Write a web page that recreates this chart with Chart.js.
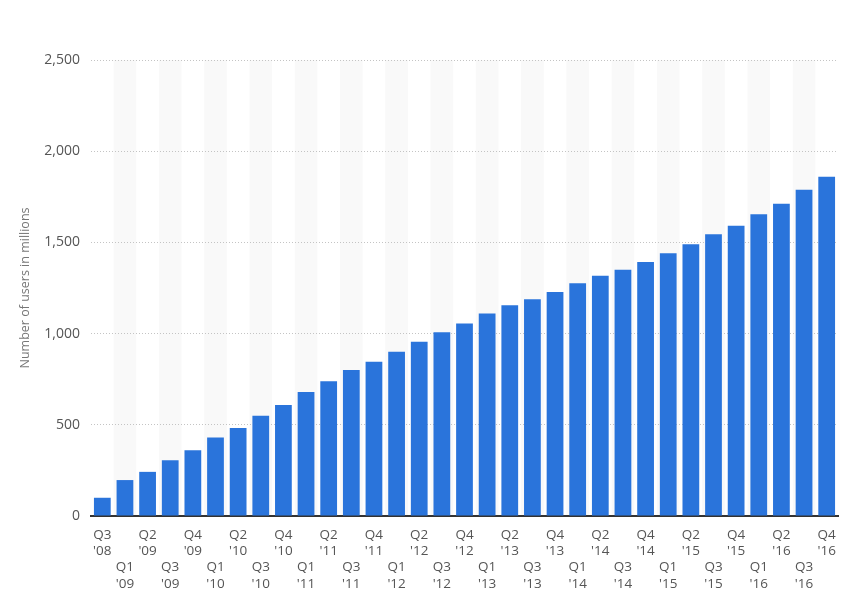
<!DOCTYPE html>
<html>
<head>
<meta charset="utf-8">
<script src="https://cdn.jsdelivr.net/npm/chart.js@4"></script>
<style>
  html, body { margin: 0; padding: 0; background: #fff; }
  #wrap { width: 856px; height: 605px; position: relative; }
</style>
</head>
<body>
<div id="wrap"><canvas id="usersChart"></canvas></div>
<script>
const quarters = ['Q3', 'Q1', 'Q2', 'Q3', 'Q4', 'Q1', 'Q2', 'Q3', 'Q4', 'Q1', 'Q2', 'Q3', 'Q4',
    'Q1', 'Q2', 'Q3', 'Q4', 'Q1', 'Q2', 'Q3', 'Q4', 'Q1', 'Q2', 'Q3', 'Q4',
    'Q1', 'Q2', 'Q3', 'Q4', 'Q1', 'Q2', 'Q3', 'Q4'];
const years = ["'08", "'09", "'09", "'09", "'09", "'10", "'10", "'10", "'10", "'11", "'11", "'11", "'11",
    "'12", "'12", "'12", "'12", "'13", "'13", "'13", "'13", "'14", "'14", "'14", "'14",
    "'15", "'15", "'15", "'15", "'16", "'16", "'16", "'16"];
const users = [100, 197, 242, 305, 360, 431, 482, 550, 608, 680, 739, 800, 845,
    901, 955, 1007, 1056, 1110, 1155, 1189, 1228, 1276, 1317, 1350, 1393,
    1441, 1490, 1545, 1591, 1654, 1712, 1788, 1860];
const yTicks = [0, 500, 1000, 1500, 2000, 2500];

// staggered labels: every second one pushed down two lines
const labels = quarters.map((q, i) => i % 2 === 0 ? [q, years[i]] : ['', '', q, years[i]]);

// light grey stripes behind every second category
const stripes = {
    id: 'stripes',
    beforeDraw(chart) {
        const { ctx, chartArea, scales } = chart;
        const x = scales.x;
        const step = x.width / labels.length;
        ctx.save();
        ctx.fillStyle = '#f9f9f9';
        labels.forEach((l, i) => {
            if (i % 2 === 1) {
                const c = x.getPixelForValue(i);
                ctx.fillRect(c - step / 2, chartArea.top, step, chartArea.bottom - chartArea.top);
            }
        });
        ctx.restore();
    }
};

const ctx = document.getElementById('usersChart').getContext('2d');
new Chart(ctx, {
    type: 'bar',
    data: {
        labels: labels,
        datasets: [{
            data: users,
            backgroundColor: '#2a74db',
            barPercentage: 0.74,
            categoryPercentage: 1.0
        }]
    },
    plugins: [stripes],
    options: {
        responsive: true,
        maintainAspectRatio: false,
        animation: false,
        layout: { padding: { top: 60, right: 18, bottom: 0, left: 18 } },
        plugins: {
            legend: { display: false },
            tooltip: { enabled: false }
        },
        scales: {
            x: {
                grid: { display: false, drawTicks: false },
                border: { display: true, color: '#333', width: 2 },
                ticks: {
                    autoSkip: false,
                    maxRotation: 0,
                    minRotation: 0,
                    padding: 11,
                    color: '#555',
                    font: { family: 'Open Sans', size: 13.5, lineHeight: 1.2 }
                },
                afterFit(scale) { scale.height = 89; }
            },
            y: {
                min: 0,
                max: 2500,
                afterBuildTicks(scale) { scale.ticks = yTicks.map(v => ({ value: v })); },
                grid: { color: '#c4c4c4', lineWidth: 1, drawTicks: false },
                border: { display: false, dash: [1, 2] },
                ticks: {
                    padding: 11,
                    color: '#555',
                    font: { family: 'Open Sans', size: 14 },
                    callback: v => v.toLocaleString('en-US')
                },
                title: {
                    display: true,
                    text: 'Number of users in millions',
                    color: '#777',
                    padding: { top: 0, bottom: 8 },
                    font: { family: 'Open Sans', size: 12.5 }
                },
                afterFit(scale) { scale.width = 73; }
            }
        }
    }
});
</script>
</body>
</html>
